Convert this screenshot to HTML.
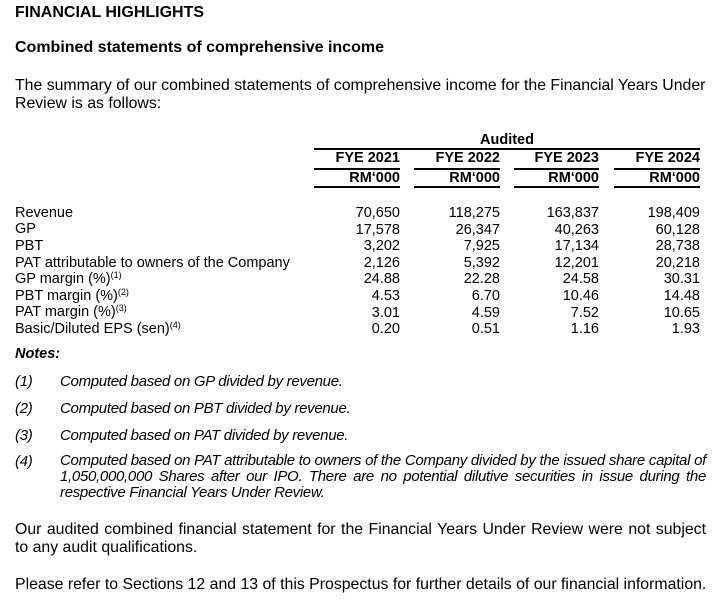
<!DOCTYPE html>
<html><head><meta charset="utf-8"><style>
body{margin:0;width:724px;height:607px;background:#fff;position:relative;overflow:hidden;font-family:"Liberation Sans",Arial,sans-serif;color:#000;font-size:14.5px}
.a{position:absolute;line-height:17px;white-space:nowrap}
.b{font-weight:bold}
.t{font-size:15.85px}
.h{font-size:16px}
.r{text-align:right;width:90px}
.ln{position:absolute;height:1.5px;background:#000}
.it{font-style:italic;font-size:15px;letter-spacing:-0.3px}
sup{font-size:9px;vertical-align:5px;line-height:0}
</style></head><body>
<div class="a b h" style="left:15px;top:4px">FINANCIAL HIGHLIGHTS</div>
<div class="a b h" style="left:15px;top:39px">Combined statements of comprehensive income</div>
<div class="a t" style="left:15px;top:77px">The summary of our combined statements of comprehensive income for the Financial Years Under</div>
<div class="a t" style="left:15px;top:95px">Review is as follows:</div>

<div class="a b" style="left:314px;width:386px;text-align:center;top:132px">Audited</div>
<div class="ln" style="left:314px;width:386px;top:148px"></div>

<div class="a b r" style="left:310px;top:150px">FYE 2021</div>
<div class="a b r" style="left:410px;top:150px">FYE 2022</div>
<div class="a b r" style="left:509px;top:150px">FYE 2023</div>
<div class="a b r" style="left:610px;top:150px">FYE 2024</div>
<div class="ln" style="left:314px;width:86px;top:168px"></div>
<div class="ln" style="left:414px;width:86px;top:168px"></div>
<div class="ln" style="left:514px;width:85px;top:168px"></div>
<div class="ln" style="left:614px;width:86px;top:168px"></div>
<div class="a b r" style="left:310px;top:170px">RM‘000</div>
<div class="a b r" style="left:410px;top:170px">RM‘000</div>
<div class="a b r" style="left:509px;top:170px">RM‘000</div>
<div class="a b r" style="left:610px;top:170px">RM‘000</div>
<div class="ln" style="left:314px;width:86px;top:186px"></div>
<div class="ln" style="left:414px;width:86px;top:186px"></div>
<div class="ln" style="left:514px;width:85px;top:186px"></div>
<div class="ln" style="left:614px;width:86px;top:186px"></div>

<div class="a" style="left:15px;top:205px">Revenue</div>
<div class="a" style="left:15px;top:221px">GP</div>
<div class="a" style="left:15px;top:238px">PBT</div>
<div class="a" style="left:15px;top:255px">PAT attributable to owners of the Company</div>
<div class="a" style="left:15px;top:271px">GP margin (%)<sup>(1)</sup></div>
<div class="a" style="left:15px;top:288px">PBT margin (%)<sup>(2)</sup></div>
<div class="a" style="left:15px;top:304px">PAT margin (%)<sup>(3)</sup></div>
<div class="a" style="left:15px;top:321px">Basic/Diluted EPS (sen)<sup>(4)</sup></div>

<div class="a r" style="left:310px;top:205px;line-height:16.6px;white-space:pre">70,650
17,578
3,202
2,126
24.88
4.53
3.01
0.20</div>
<div class="a r" style="left:410px;top:205px;line-height:16.6px;white-space:pre">118,275
26,347
7,925
5,392
22.28
6.70
4.59
0.51</div>
<div class="a r" style="left:509px;top:205px;line-height:16.6px;white-space:pre">163,837
40,263
17,134
12,201
24.58
10.46
7.52
1.16</div>
<div class="a r" style="left:610px;top:205px;line-height:16.6px;white-space:pre">198,409
60,128
28,738
20,218
30.31
14.48
10.65
1.93</div>

<div class="a b" style="left:15px;top:346px;font-style:italic">Notes:</div>
<div class="a it" style="left:15px;top:373px">(1)</div>
<div class="a it" style="left:60px;top:373px">Computed based on GP divided by revenue.</div>
<div class="a it" style="left:15px;top:400px">(2)</div>
<div class="a it" style="left:60px;top:400px">Computed based on PBT divided by revenue.</div>
<div class="a it" style="left:15px;top:427px">(3)</div>
<div class="a it" style="left:60px;top:427px">Computed based on PAT divided by revenue.</div>
<div class="a it" style="left:15px;top:453px">(4)</div>
<div class="a it" style="left:60px;top:453px;width:646px;white-space:normal;text-align:justify;line-height:16px">Computed based on PAT attributable to owners of the Company divided by the issued share capital of 1,050,000,000 Shares after our IPO. There are no potential dilutive securities in issue during the respective Financial Years Under Review.</div>

<div class="a t" style="left:15px;top:521px;width:691px;white-space:normal;text-align:justify;text-align-last:justify">Our audited combined financial statement for the Financial Years Under Review were not subject</div>
<div class="a t" style="left:15px;top:539px">to any audit qualifications.</div>
<div class="a t" style="left:15px;top:576px">Please refer to Sections 12 and 13 of this Prospectus for further details of our financial information.</div>
</body></html>
